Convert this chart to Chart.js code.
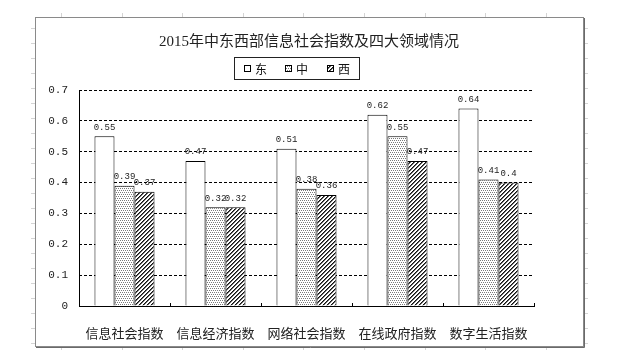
<!DOCTYPE html>
<html>
<head>
<meta charset="utf-8">
<script src="https://cdn.jsdelivr.net/npm/chart.js@4/dist/chart.umd.min.js"></script>
<style>
  html, body { margin: 0; padding: 0; background: #fff; }
  #wrap { width: 623px; height: 361px; }
</style>
</head>
<body>
<div id="wrap"><canvas id="grafico" width="623" height="361"></canvas></div>
<script>
// dados do gráfico
const categorias = ['信息社会指数', '信息经济指数', '网络社会指数', '在线政府指数', '数字生活指数'];
const nomesSeries = ['东', '中', '西'];
const valoresLeste = [0.55, 0.47, 0.51, 0.62, 0.64];
const valoresCentro = [0.39, 0.32, 0.38, 0.55, 0.41];
const valoresOeste = [0.37, 0.32, 0.36, 0.47, 0.4];
const rotulosY = ['0', '0.1', '0.2', '0.3', '0.4', '0.5', '0.6', '0.7'];
const titulo = '2015年中东西部信息社会指数及四大领域情况';

const canvas = document.getElementById('grafico');
const ctx = canvas.getContext('2d');

// padrões de preenchimento
function padraoPontos() {
    const c = document.createElement('canvas');
    c.width = 4; c.height = 4;
    const g = c.getContext('2d');
    g.fillStyle = '#fff';
    g.fillRect(0, 0, 4, 4);
    g.fillStyle = '#7a7a7a';
    g.fillRect(0, 0, 1, 1);
    g.fillRect(2, 0, 1, 1);
    g.fillRect(1, 2, 1, 1);
    g.fillRect(3, 2, 1, 1);
    return ctx.createPattern(c, 'repeat');
}

function padraoListras() {
    const c = document.createElement('canvas');
    c.width = 4; c.height = 4;
    const g = c.getContext('2d');
    g.fillStyle = '#fff';
    g.fillRect(0, 0, 4, 4);
    for (let i = 0; i < 4; i++) {
        g.fillStyle = '#111';
        g.fillRect(i, 3 - i, 1, 1);
        g.fillStyle = '#666';
        g.fillRect(i, (4 - i) % 4, 1, 1);
    }
    return ctx.createPattern(c, 'repeat');
}

const preenchimentos = ['#fff', padraoPontos(), padraoListras()];

// moldura, título, legenda, eixos e rótulos
const extras = {
    id: 'extras',
    beforeDraw(chart) {
        const c = chart.ctx;
        c.save();
        // marquinhas da planilha
        c.strokeStyle = '#d4d4d4';
        c.lineWidth = 1;
        for (let x = 61; x < 583; x += 60.6) {
            const px = Math.round(x) + 0.5;
            c.beginPath(); c.moveTo(px, 13); c.lineTo(px, 17); c.stroke();
            c.beginPath(); c.moveTo(px, 346); c.lineTo(px, 350); c.stroke();
        }
        for (let y = 28; y < 346; y += 15) {
            c.beginPath(); c.moveTo(31, y + 0.5); c.lineTo(35, y + 0.5); c.stroke();
            c.beginPath(); c.moveTo(584, y + 0.5); c.lineTo(588, y + 0.5); c.stroke();
        }
        // moldura
        c.fillStyle = '#fff';
        c.fillRect(35, 17, 548, 329);
        c.strokeStyle = '#8a8a8a';
        c.strokeRect(35.5, 17.5, 548, 329);
        c.strokeStyle = '#6a6a6a';
        c.beginPath();
        c.moveTo(584.5, 18); c.lineTo(584.5, 347.5); c.lineTo(36, 347.5);
        c.stroke();
        // título
        c.fillStyle = '#222';
        c.font = '15px "Liberation Serif", "Noto Sans CJK SC"';
        c.textAlign = 'center';
        c.textBaseline = 'middle';
        c.fillText(titulo, 309, 42);
        // legenda
        c.strokeStyle = '#222';
        c.strokeRect(234.5, 57.5, 125, 22);
        const posX = [244, 285, 327];
        c.font = '12px "Noto Sans CJK SC"';
        c.textAlign = 'left';
        nomesSeries.forEach((nome, i) => {
            c.fillStyle = preenchimentos[i];
            c.fillRect(posX[i], 65, 7, 7);
            c.strokeStyle = '#000';
            c.strokeRect(posX[i] + 0.5, 65.5, 6, 6);
            c.fillStyle = '#111';
            c.fillText(nome, posX[i] + 11, 69);
        });
        c.restore();
    },
    afterDatasetsDraw(chart) {
        const c = chart.ctx;
        const area = chart.chartArea;
        const xs = chart.scales.x;
        c.save();
        c.strokeStyle = '#000';
        c.lineWidth = 1;
        // eixos
        c.beginPath();
        c.moveTo(Math.round(area.left) + 0.5, area.top);
        c.lineTo(Math.round(area.left) + 0.5, Math.round(area.bottom) + 0.5);
        c.lineTo(area.right + 1, Math.round(area.bottom) + 0.5);
        c.stroke();
        // marcas internas do eixo x
        for (let i = 1; i <= categorias.length; i++) {
            const px = Math.round(xs.getPixelForValue(i - 0.5)) + 0.5;
            c.beginPath();
            c.moveTo(px, Math.round(area.bottom) - 3);
            c.lineTo(px, Math.round(area.bottom));
            c.stroke();
        }
        // rótulos de valor
        c.fillStyle = '#222';
        c.font = '9px "Liberation Mono"';
        c.textAlign = 'center';
        c.textBaseline = 'middle';
        chart.data.datasets.forEach((ds, i) => {
            chart.getDatasetMeta(i).data.forEach((bar, j) => {
                c.fillText(String(ds.data[j]), bar.x, bar.y - 9);
            });
        });
        c.restore();
    }
};

new Chart(ctx, {
    type: 'bar',
    data: {
        labels: categorias,
        datasets: [
            { label: nomesSeries[0], data: valoresLeste, backgroundColor: preenchimentos[0] },
            { label: nomesSeries[1], data: valoresCentro, backgroundColor: preenchimentos[1] },
            { label: nomesSeries[2], data: valoresOeste, backgroundColor: preenchimentos[2] }
        ].map(ds => Object.assign(ds, {
            borderColor: '#000',
            borderWidth: 1,
            categoryPercentage: 0.66,
            barPercentage: 1
        }))
    },
    options: {
        responsive: false,
        animation: false,
        devicePixelRatio: 1,
        layout: { padding: { top: 90, right: 89, left: 0, bottom: 0 } },
        plugins: {
            legend: { display: false },
            title: { display: false },
            tooltip: { enabled: false }
        },
        scales: {
            x: {
                grid: { display: false },
                border: { display: false },
                ticks: {
                    color: '#222',
                    padding: 11,
                    maxRotation: 0,
                    autoSkip: false,
                    font: { family: '"Noto Sans CJK SC"', size: 13 }
                },
                afterFit(s) { s.height = 55; }
            },
            y: {
                min: 0,
                max: 0.7,
                grid: { color: '#000', lineWidth: 1, drawTicks: false },
                border: { display: false, dash: [3, 2] },
                ticks: {
                    stepSize: 0.1,
                    color: '#222',
                    padding: 11,
                    font: { family: '"Liberation Mono"', size: 11 },
                    callback: (v, i) => rotulosY[i]
                },
                afterFit(s) { s.width = 79; }
            }
        }
    },
    plugins: [extras]
});
</script>
</body>
</html>
